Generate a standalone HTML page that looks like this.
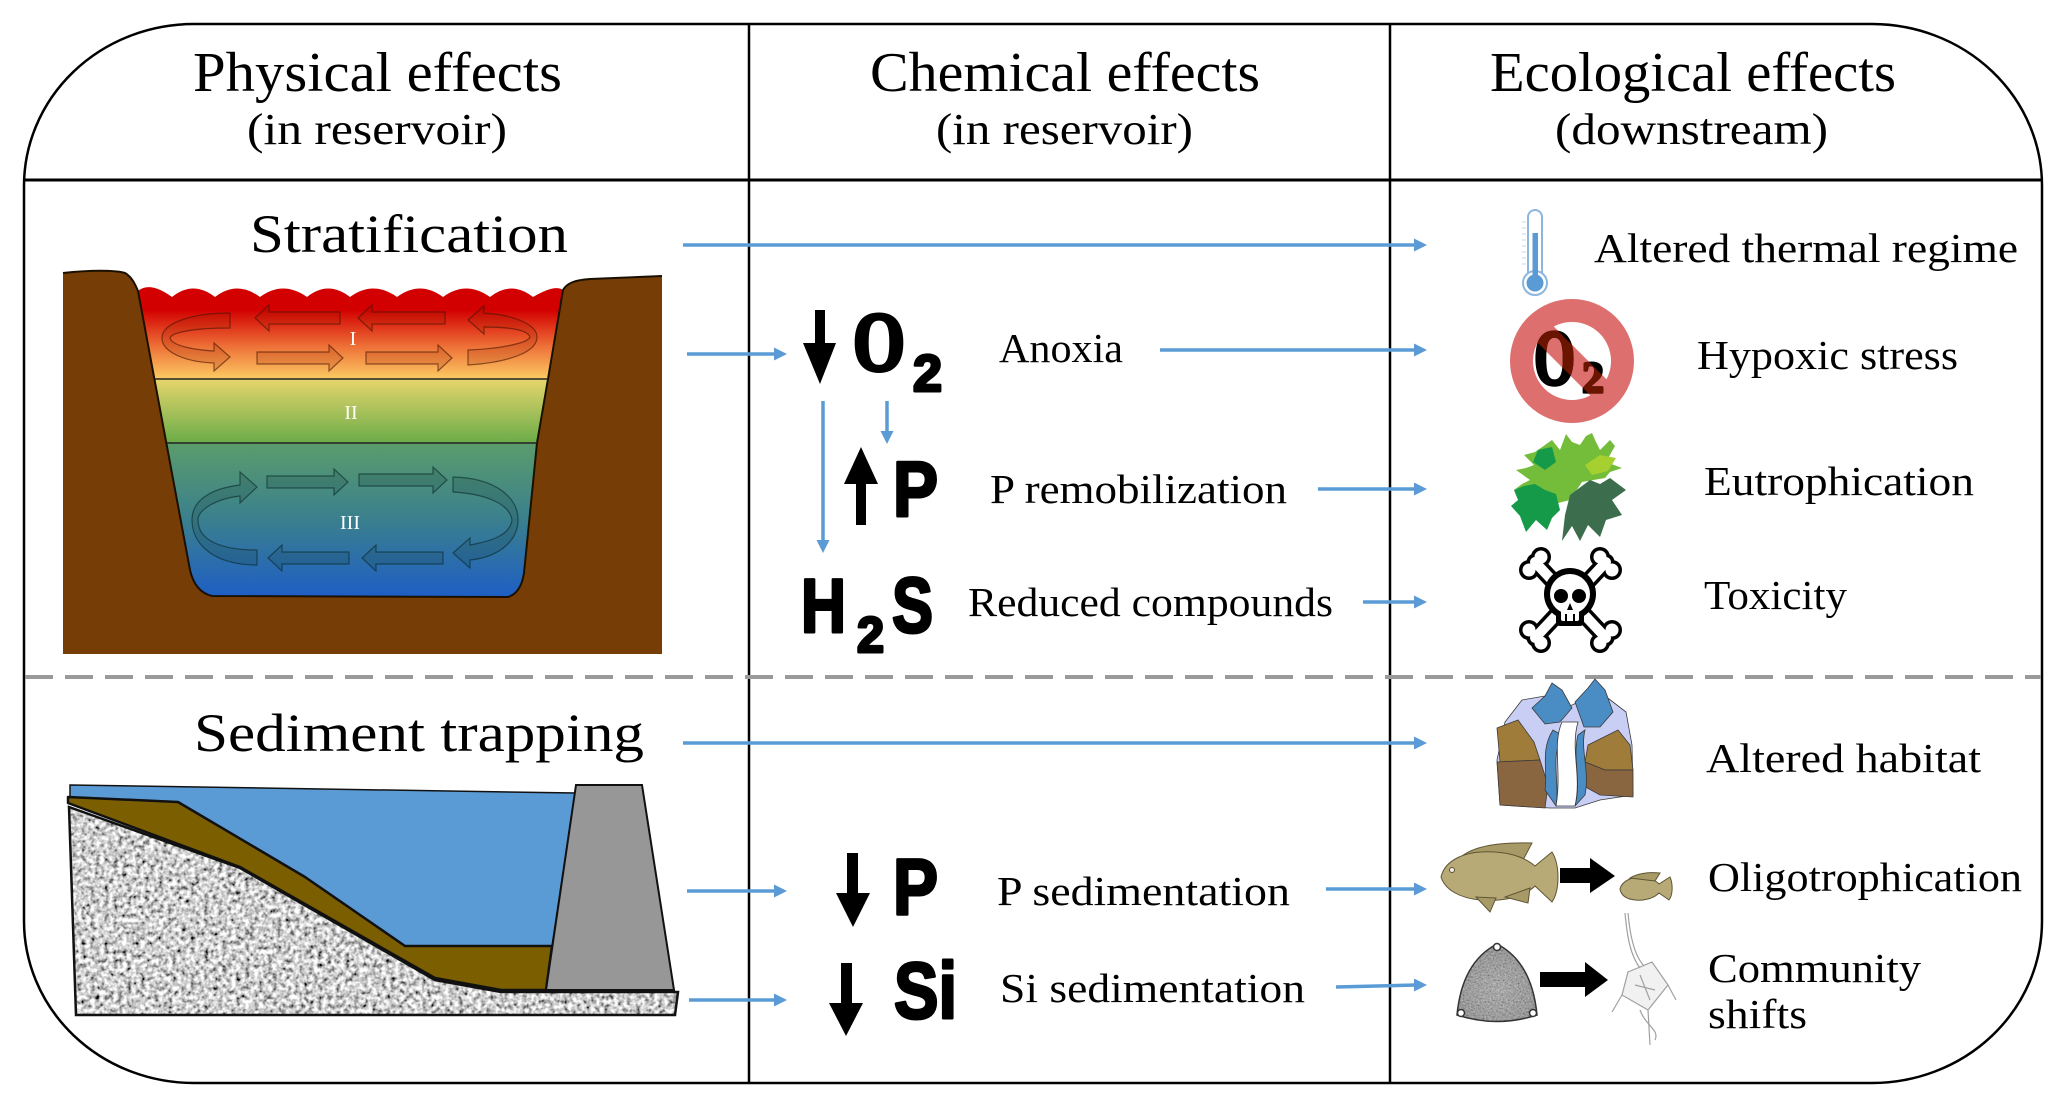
<!DOCTYPE html>
<html>
<head>
<meta charset="utf-8">
<style>
  html,body{margin:0;padding:0;background:#fff;}
  svg{display:block;}
  .hd{font-family:"Liberation Serif",serif;font-size:56px;fill:#000;}
  .sub{font-family:"Liberation Serif",serif;font-size:44px;fill:#000;}
  .sec{font-family:"Liberation Serif",serif;font-size:54px;fill:#000;}
  .lb{font-family:"Liberation Serif",serif;font-size:41px;fill:#000;}
  .bs{font-family:"Liberation Sans",sans-serif;font-weight:bold;fill:#000;stroke:#000;stroke-width:3;stroke-linejoin:round;}
  .bf{font-family:"Liberation Serif",serif;font-weight:bold;fill:#000;stroke:#000;stroke-width:4;stroke-linejoin:round;}
  .rn{font-family:"Liberation Serif",serif;font-size:20px;fill:#fff;}
</style>
</head>
<body>
<svg width="2067" height="1108" viewBox="0 0 2067 1108" xmlns="http://www.w3.org/2000/svg">
<defs>
  <linearGradient id="water" gradientUnits="userSpaceOnUse" x1="0" y1="288" x2="0" y2="598">
    <stop offset="0" stop-color="#d20000"/>
    <stop offset="0.07" stop-color="#d20000"/>
    <stop offset="0.19" stop-color="#ee7238"/>
    <stop offset="0.29" stop-color="#fbc862"/>
    <stop offset="0.294" stop-color="#e6d56c"/>
    <stop offset="0.50" stop-color="#6aac48"/>
    <stop offset="0.503" stop-color="#5a9c6c"/>
    <stop offset="0.75" stop-color="#3a7f8e"/>
    <stop offset="1" stop-color="#1e5ec6"/>
  </linearGradient>
  <radialGradient id="diatg" cx="0.5" cy="0.55" r="0.6">
    <stop offset="0" stop-color="#9a9a9a"/>
    <stop offset="0.7" stop-color="#7c7c7c"/>
    <stop offset="1" stop-color="#555"/>
  </radialGradient>
  <filter id="granite" x="0" y="0" width="100%" height="100%">
    <feTurbulence type="fractalNoise" baseFrequency="0.22" numOctaves="2" seed="4"/>
    <feColorMatrix type="matrix" values="2.0 0 0 0 -0.38  2.0 0 0 0 -0.38  2.0 0 0 0 -0.38  0 0 0 0 1"/>
  </filter>
  <filter id="diat" x="0" y="0" width="100%" height="100%">
    <feTurbulence type="fractalNoise" baseFrequency="0.6" numOctaves="1" seed="7"/>
    <feColorMatrix type="matrix" values="1.4 0 0 0 -0.2  1.4 0 0 0 -0.2  1.4 0 0 0 -0.2  0 0 0 0 1"/>
  </filter>
  <clipPath id="rockclip">
    <polygon points="69,807 240,868 435,980 501,992 678,992 675,1015 76,1015"/>
  </clipPath>
  <clipPath id="diatclip">
    <path d="M1497,944 Q1532,962 1537,1015 Q1497,1028 1457,1015 Q1462,962 1497,944 Z"/>
  </clipPath>
  <clipPath id="band">
    <polygon points="1536,309 1624,397 1608,413 1520,325"/>
  </clipPath>
</defs>

<!-- Outer frame -->
<rect x="24" y="24" width="2018" height="1059" rx="170" ry="162" fill="none" stroke="#000" stroke-width="2.5"/>
<line x1="24" y1="180" x2="2042" y2="180" stroke="#000" stroke-width="3"/>
<line x1="749" y1="24" x2="749" y2="1083" stroke="#000" stroke-width="2.5"/>
<line x1="1390" y1="24" x2="1390" y2="1083" stroke="#000" stroke-width="2.5"/>
<line x1="25" y1="677" x2="2041" y2="677" stroke="#9a9a9a" stroke-width="4" stroke-dasharray="28 12"/>

<!-- Headers -->
<text class="hd" x="193" y="91" textLength="369" lengthAdjust="spacingAndGlyphs">Physical effects</text>
<text class="sub" x="247" y="144" textLength="260" lengthAdjust="spacingAndGlyphs">(in reservoir)</text>
<text class="hd" x="870" y="91" textLength="390" lengthAdjust="spacingAndGlyphs">Chemical effects</text>
<text class="sub" x="936" y="144" textLength="257" lengthAdjust="spacingAndGlyphs">(in reservoir)</text>
<text class="hd" x="1490" y="91" textLength="406" lengthAdjust="spacingAndGlyphs">Ecological effects</text>
<text class="sub" x="1555" y="144" textLength="273" lengthAdjust="spacingAndGlyphs">(downstream)</text>

<!-- Section labels -->
<text class="sec" x="250" y="252" textLength="318" lengthAdjust="spacingAndGlyphs">Stratification</text>
<text class="sec" x="194" y="751" textLength="450" lengthAdjust="spacingAndGlyphs">Sediment trapping</text>

<!-- Stratification image -->
<path d="M63,273 C90,270 115,270 125,273 C132,277 135,284 138,291 L142,310 L559,310 L563,290 C567,283 575,280 590,279 L662,276 L662,654 L63,654 Z" fill="#773d06"/>
<path d="M138,291 L190,570 Q195,592 212,596 L508,597 Q521,593 524,573 L537,443 L548,379 L563,290 Q555,284 533,297 Q511,280 490,297 Q466,280 443,297 Q420,280 397,297 Q373,280 350,297 Q328,280 307,297 Q283,280 260,297 Q237,280 215,297 Q193,280 172,297 Q150,281 138,291 Z" fill="url(#water)"/>
<path d="M63,273 C90,270 115,270 125,273 C132,277 135,284 138,291 L190,570 Q195,592 212,596 L508,597 Q521,593 524,573 L537,443 L548,379 L563,290 C567,283 575,280 590,279 L662,276" fill="none" stroke="#1a1000" stroke-width="2"/>
<line x1="155" y1="379" x2="548" y2="379" stroke="#222" stroke-width="1.6"/>
<line x1="167" y1="443" x2="537" y2="443" stroke="#222" stroke-width="1.6"/>

<!-- Layer I arrows -->
<g fill="rgba(150,30,0,0.18)" stroke="rgba(70,20,0,0.6)" stroke-width="1.2">
  <path d="M340,312 L269,312 L269,305 L255,318 L269,331 L269,324 L340,324 Z"/>
  <path d="M445,312 L372,312 L372,305 L358,318 L372,331 L372,324 L445,324 Z"/>
  <path d="M257,352 L329,352 L329,345 L343,358 L329,371 L329,364 L257,364 Z"/>
  <path d="M366,352 L438,352 L438,345 L452,358 L438,371 L438,364 L366,364 Z"/>
  <path d="M230,313 L230,328 C195,328 172,332 170,338 C172,346 195,350 214,351 L214,343 L230,357 L214,371 L214,363 C185,362 162,352 162,338 C162,322 195,313 230,313 Z"/>
  <path d="M468,320 L484,306 L484,313 C515,315 537,325 537,337 C537,352 510,362 468,365 L468,350 C500,349 528,343 530,337 C528,330 510,327 484,327 L484,334 Z"/>
</g>
<!-- Layer III arrows -->
<g fill="rgba(20,60,60,0.2)" stroke="rgba(10,40,40,0.6)" stroke-width="1.2">
  <path d="M267,476 L334,476 L334,469 L348,482 L334,495 L334,488 L267,488 Z"/>
  <path d="M359,474 L433,474 L433,467 L447,480 L433,493 L433,486 L359,486 Z"/>
  <path d="M349,552 L282,552 L282,545 L268,558 L282,571 L282,564 L349,564 Z"/>
  <path d="M443,552 L376,552 L376,545 L362,558 L376,571 L376,564 L443,564 Z"/>
  <path d="M257,550 L257,565 C215,565 192,545 192,520 C192,498 215,488 240,485 L240,472 L257,487 L240,503 L240,496 C215,499 198,510 198,520 C198,540 220,550 257,550 Z"/>
  <path d="M453,477 L453,492 C488,494 510,505 512,520 C510,535 492,541 470,545 L470,538 L453,553 L470,568 L470,560 C500,557 518,540 518,520 C518,497 495,478 453,477 Z"/>
</g>
<text class="rn" x="353" y="345" text-anchor="middle">I</text>
<text class="rn" x="351" y="419" text-anchor="middle">II</text>
<text class="rn" x="350" y="529" text-anchor="middle">III</text>

<!-- Sediment image -->
<g clip-path="url(#rockclip)">
  <rect x="60" y="800" width="630" height="220" fill="#a0a0a0"/>
  <rect x="60" y="800" width="630" height="220" filter="url(#granite)"/>
</g>
<polygon points="69,807 240,868 435,980 501,992 678,992 675,1015 76,1015" fill="none" stroke="#111" stroke-width="2.5"/>
<line x1="501" y1="992" x2="678" y2="992" stroke="#111" stroke-width="2"/>
<polygon points="70,785 575,793 552,946 405,946 305,877 178,802 70,797" fill="#5b9bd5" stroke="#111" stroke-width="1.5"/>
<polygon points="68,797 178,802 305,877 405,946 552,946 546,990 501,990 435,978 240,867 68,803" fill="#7a5e00" stroke="#111" stroke-width="2.5" stroke-linejoin="round"/>
<polygon points="576,785 642,785 674,990 546,990" fill="#979797" stroke="#111" stroke-width="2"/>

<!-- Chemical column: bold symbols -->
<polygon points="815,310 825,310 825,343 836,343 820,384 803,343 815,343" fill="#000"/>
<text class="bf" x="853" y="370" font-size="84" textLength="52" lengthAdjust="spacingAndGlyphs">O</text>
<text class="bs" x="913" y="391" font-size="52" textLength="29" lengthAdjust="spacingAndGlyphs">2</text>

<polygon points="861,447 878,484 866,484 866,525 856,525 856,484 844,484" fill="#000"/>
<text class="bs" x="893" y="516" font-size="78" textLength="45" lengthAdjust="spacingAndGlyphs">P</text>

<text class="bs" x="801" y="632" font-size="76" textLength="45" lengthAdjust="spacingAndGlyphs">H</text>
<text class="bs" x="857" y="652" font-size="50" textLength="27" lengthAdjust="spacingAndGlyphs">2</text>
<text class="bs" x="892" y="632" font-size="78" textLength="41" lengthAdjust="spacingAndGlyphs">S</text>

<polygon points="847,853 858,853 858,893 870,893 853,927 836,893 847,893" fill="#000"/>
<text class="bs" x="893" y="914" font-size="79" textLength="45" lengthAdjust="spacingAndGlyphs">P</text>

<polygon points="841,963 852,963 852,1003 863,1003 846,1036 829,1003 841,1003" fill="#000"/>
<text class="bs" x="894" y="1018" font-size="80" textLength="63" lengthAdjust="spacingAndGlyphs">Si</text>

<!-- Chemical labels -->
<text class="lb" x="999" y="362" textLength="124" lengthAdjust="spacingAndGlyphs">Anoxia</text>
<text class="lb" x="990" y="503" textLength="297" lengthAdjust="spacingAndGlyphs">P remobilization</text>
<text class="lb" x="968" y="616" textLength="365" lengthAdjust="spacingAndGlyphs">Reduced compounds</text>
<text class="lb" x="997" y="905" textLength="293" lengthAdjust="spacingAndGlyphs">P sedimentation</text>
<text class="lb" x="1000" y="1002" textLength="305" lengthAdjust="spacingAndGlyphs">Si sedimentation</text>

<!-- Ecological labels -->
<text class="lb" x="1594" y="262" textLength="424" lengthAdjust="spacingAndGlyphs">Altered thermal regime</text>
<text class="lb" x="1697" y="369" textLength="261" lengthAdjust="spacingAndGlyphs">Hypoxic stress</text>
<text class="lb" x="1704" y="495" textLength="270" lengthAdjust="spacingAndGlyphs">Eutrophication</text>
<text class="lb" x="1704" y="609" textLength="143" lengthAdjust="spacingAndGlyphs">Toxicity</text>
<text class="lb" x="1706" y="772" textLength="275" lengthAdjust="spacingAndGlyphs">Altered habitat</text>
<text class="lb" x="1708" y="891" textLength="314" lengthAdjust="spacingAndGlyphs">Oligotrophication</text>
<text class="lb" x="1708" y="982" textLength="213" lengthAdjust="spacingAndGlyphs">Community</text>
<text class="lb" x="1708" y="1028" textLength="99" lengthAdjust="spacingAndGlyphs">shifts</text>

<!-- Blue connectors -->
<g stroke="#5b9bd5" stroke-width="3.5" fill="none">
  <line x1="683" y1="245" x2="1416" y2="245"/>
  <line x1="687" y1="354" x2="776" y2="354"/>
  <line x1="1160" y1="350" x2="1416" y2="350"/>
  <line x1="1318" y1="489" x2="1416" y2="489"/>
  <line x1="1363" y1="602" x2="1416" y2="602"/>
  <line x1="683" y1="743" x2="1416" y2="743"/>
  <line x1="687" y1="891" x2="776" y2="891"/>
  <line x1="689" y1="1000" x2="776" y2="1000"/>
  <line x1="1326" y1="889" x2="1416" y2="889"/>
  <line x1="1336" y1="987" x2="1416" y2="985"/>
  <line x1="823" y1="401" x2="823" y2="542"/>
  <line x1="887" y1="401" x2="887" y2="433"/>
</g>
<g fill="#5b9bd5">
  <polygon points="1414,238.5 1427,245 1414,251.5"/>
  <polygon points="774,347.5 787,354 774,360.5"/>
  <polygon points="1414,343.5 1427,350 1414,356.5"/>
  <polygon points="1414,482.5 1427,489 1414,495.5"/>
  <polygon points="1414,595.5 1427,602 1414,608.5"/>
  <polygon points="1414,736.5 1427,743 1414,749.5"/>
  <polygon points="774,884.5 787,891 774,897.5"/>
  <polygon points="774,993.5 787,1000 774,1006.5"/>
  <polygon points="1414,882.5 1427,889 1414,895.5"/>
  <polygon points="1414,978.5 1427,985 1414,991.5"/>
  <polygon points="816.5,540 829.5,540 823,553"/>
  <polygon points="880.5,431 893.5,431 887,444"/>
</g>

<!-- Thermometer -->
<g>
  <path d="M1528,283 L1528,217 A7,7 0 0 1 1542,217 L1542,283" fill="#fff" stroke="#8db6df" stroke-width="2"/>
  <circle cx="1535" cy="283" r="12" fill="#fff" stroke="#8db6df" stroke-width="2"/>
  <rect x="1532.5" y="233" width="5.5" height="50" fill="#5b9bd5"/>
  <circle cx="1535" cy="283" r="8.5" fill="#5b9bd5"/>
  <g stroke="#c6d8ea" stroke-width="1">
    <line x1="1522" y1="222" x2="1526" y2="222"/><line x1="1522" y1="228" x2="1526" y2="228"/>
    <line x1="1522" y1="234" x2="1526" y2="234"/><line x1="1522" y1="240" x2="1526" y2="240"/>
    <line x1="1522" y1="246" x2="1526" y2="246"/><line x1="1522" y1="252" x2="1526" y2="252"/>
    <line x1="1522" y1="258" x2="1526" y2="258"/><line x1="1522" y1="264" x2="1526" y2="264"/>
  </g>
</g>

<!-- No O2 icon -->
<circle cx="1572" cy="361" r="50.5" fill="none" stroke="#de6f6f" stroke-width="23"/>
<line x1="1544" y1="333" x2="1600" y2="389" stroke="#de6f6f" stroke-width="23"/>
<text class="bf" x="1534" y="384" font-size="78" textLength="41" lengthAdjust="spacingAndGlyphs" style="stroke-width:3.5">O</text>
<text class="bf" x="1582" y="392" font-size="44" textLength="22" lengthAdjust="spacingAndGlyphs" style="stroke-width:2.5">2</text>
<g clip-path="url(#band)">
  <text class="bf" x="1534" y="384" font-size="78" textLength="41" lengthAdjust="spacingAndGlyphs" style="fill:#6b1400;stroke:#6b1400;stroke-width:3.5">O</text>
  <text class="bf" x="1582" y="392" font-size="44" textLength="22" lengthAdjust="spacingAndGlyphs" style="fill:#6b1400;stroke:#6b1400;stroke-width:2.5">2</text>
</g>

<!-- Algae -->
<g>
  <polygon points="1545,445 1552,440 1560,450 1566,434 1572,442 1580,445 1586,436 1592,433 1596,442 1600,450 1610,440 1615,446 1606,462 1622,468 1610,472 1605,478 1582,482 1570,500 1550,505 1530,500 1514,490 1522,484 1530,480 1516,470 1526,468 1534,465 1524,455 1535,452" fill="#74bd3a"/>
  <polygon points="1514,490 1524,486 1535,484 1545,490 1556,494 1560,510 1552,518 1547,530 1536,520 1526,532 1520,516 1511,506 1518,500" fill="#149a48"/>
  <polygon points="1538,450 1552,447 1556,462 1545,470 1533,462" fill="#149a48"/>
  <polygon points="1570,495 1590,480 1600,484 1610,478 1626,490 1612,500 1622,515 1606,520 1600,537 1588,525 1580,541 1572,526 1562,541 1565,515" fill="#3c6e4e"/>
  <polygon points="1585,465 1600,455 1616,458 1608,471 1592,475" fill="#a6d030"/>
</g>

<!-- Skull & crossbones -->
<g>
  <g stroke="#000" stroke-width="17" stroke-linecap="round">
    <line x1="1535" y1="562" x2="1606" y2="638"/>
    <line x1="1606" y1="562" x2="1535" y2="638"/>
  </g>
  <g fill="#000">
    <circle cx="1529" cy="570" r="10"/><circle cx="1541" cy="557" r="10"/>
    <circle cx="1600" cy="557" r="10"/><circle cx="1612" cy="570" r="10"/>
    <circle cx="1529" cy="630" r="10"/><circle cx="1541" cy="643" r="10"/>
    <circle cx="1600" cy="643" r="10"/><circle cx="1612" cy="630" r="10"/>
  </g>
  <g stroke="#fff" stroke-width="10" stroke-linecap="round">
    <line x1="1535" y1="562" x2="1606" y2="638"/>
    <line x1="1606" y1="562" x2="1535" y2="638"/>
  </g>
  <g fill="#fff">
    <circle cx="1529" cy="570" r="6.5"/><circle cx="1541" cy="557" r="6.5"/>
    <circle cx="1600" cy="557" r="6.5"/><circle cx="1612" cy="570" r="6.5"/>
    <circle cx="1529" cy="630" r="6.5"/><circle cx="1541" cy="643" r="6.5"/>
    <circle cx="1600" cy="643" r="6.5"/><circle cx="1612" cy="630" r="6.5"/>
  </g>
  <circle cx="1570" cy="594" r="26" fill="#000"/>
  <rect x="1556" y="604" width="28" height="22" rx="4" fill="#000"/>
  <circle cx="1570" cy="594" r="20" fill="#fff"/>
  <rect x="1561" y="606" width="18" height="15" rx="2" fill="#fff"/>
  <circle cx="1561" cy="596" r="7" fill="#000"/>
  <circle cx="1579" cy="596" r="7" fill="#000"/>
  <polygon points="1570,603 1567,610 1573,610" fill="#000"/>
  <line x1="1566" y1="614" x2="1566" y2="621" stroke="#000" stroke-width="2"/>
  <line x1="1574" y1="614" x2="1574" y2="621" stroke="#000" stroke-width="2"/>
</g>

<!-- Habitat icon -->
<g stroke="#3a3a3a" stroke-width="0.8">
  <polygon points="1505,722 1522,700 1545,696 1570,706 1600,692 1626,712 1632,745 1633,795 1600,800 1575,808 1550,808 1500,805 1497,760" fill="#c9cff4"/>
  <polygon points="1532,708 1545,696 1552,683 1562,690 1572,708 1560,722 1545,724" fill="#4a8cc4"/>
  <polygon points="1575,702 1588,688 1595,679 1605,690 1613,712 1600,727 1584,727" fill="#4a8cc4"/>
  <polygon points="1497,728 1518,720 1534,742 1540,760 1500,762" fill="#a07c3a"/>
  <polygon points="1497,762 1540,760 1548,785 1545,808 1500,805" fill="#8a6640"/>
  <polygon points="1588,745 1618,730 1630,745 1633,770 1605,770 1585,762" fill="#a07c3a"/>
  <polygon points="1585,762 1605,770 1633,770 1633,797 1600,795 1582,785" fill="#8a6640"/>
  <path d="M1553,730 C1540,750 1548,770 1545,790 L1556,806 C1560,780 1550,760 1562,735 Z" fill="#4a8cc4"/>
  <path d="M1585,730 C1580,750 1590,770 1585,795 L1575,806 C1582,780 1572,758 1578,735 Z" fill="#4a8cc4"/>
  <path d="M1562,722 C1552,745 1562,770 1556,806 L1575,806 C1582,775 1570,750 1578,722 Z" fill="#fff"/>
</g>

<!-- Fish -->
<g stroke="#5e5535" stroke-width="1">
  <path d="M1462,856 C1475,846 1500,842 1532,843 L1522,862 Z" fill="#a89a66"/>
  <path d="M1441,877 C1445,860 1465,850 1495,852 C1515,853 1528,860 1535,866 L1552,852 C1560,865 1560,890 1552,902 L1535,886 C1525,896 1505,902 1480,900 C1460,898 1445,890 1441,877 Z" fill="#b8aa76"/>
  <path d="M1476,897 L1490,912 L1496,898 Z" fill="#a89a66"/>
  <path d="M1505,897 L1528,903 L1530,888 Z" fill="#a89a66"/>
  <circle cx="1452" cy="870" r="2.5" fill="#eee"/>
  <path d="M1620,889 C1622,881 1632,876 1645,877 C1652,878 1656,881 1659,884 L1670,877 C1673,884 1673,895 1669,900 L1659,893 C1654,898 1645,901 1635,900 C1626,899 1621,895 1620,889 Z" fill="#b8aa76"/>
  <path d="M1630,878 C1638,873 1650,872 1660,873 L1655,881 Z" fill="#a89a66"/>
</g>
<polygon points="1560,868 1590,868 1590,858 1615,876 1590,893 1590,883 1560,883" fill="#000"/>

<!-- Diatom -->
<g clip-path="url(#diatclip)">
  <rect x="1450" y="940" width="95" height="90" fill="url(#diatg)"/>
  <rect x="1450" y="940" width="95" height="90" filter="url(#diat)" opacity="0.45"/>
</g>
<path d="M1497,944 Q1532,962 1537,1015 Q1497,1028 1457,1015 Q1462,962 1497,944 Z" fill="none" stroke="#333" stroke-width="1.5"/>
<circle cx="1497" cy="947" r="3.5" fill="#fff" stroke="#333" stroke-width="1.5"/>
<circle cx="1461" cy="1013" r="3.5" fill="#fff" stroke="#333" stroke-width="1.5"/>
<circle cx="1533" cy="1013" r="3.5" fill="#fff" stroke="#333" stroke-width="1.5"/>
<polygon points="1540,972 1585,972 1585,962 1608,980 1585,997 1585,987 1540,987" fill="#000"/>

<!-- Dinoflagellate -->
<g stroke="#a0a0a0" stroke-width="1.2" fill="none">
  <path d="M1625,913 C1627,935 1630,955 1640,968"/>
  <path d="M1628,913 C1630,935 1634,955 1644,966"/>
  <path d="M1628,972 L1652,962 L1668,985 L1648,1010 L1622,995 Z" fill="rgba(200,200,200,0.25)"/>
  <path d="M1622,995 L1612,1012"/>
  <path d="M1668,985 L1676,1000"/>
  <path d="M1648,1010 L1650,1045"/>
  <path d="M1640,1010 C1645,1025 1660,1030 1655,1040"/>
  <path d="M1635,985 L1655,990 M1640,975 L1650,1000"/>
</g>

</svg>
</body>
</html>
